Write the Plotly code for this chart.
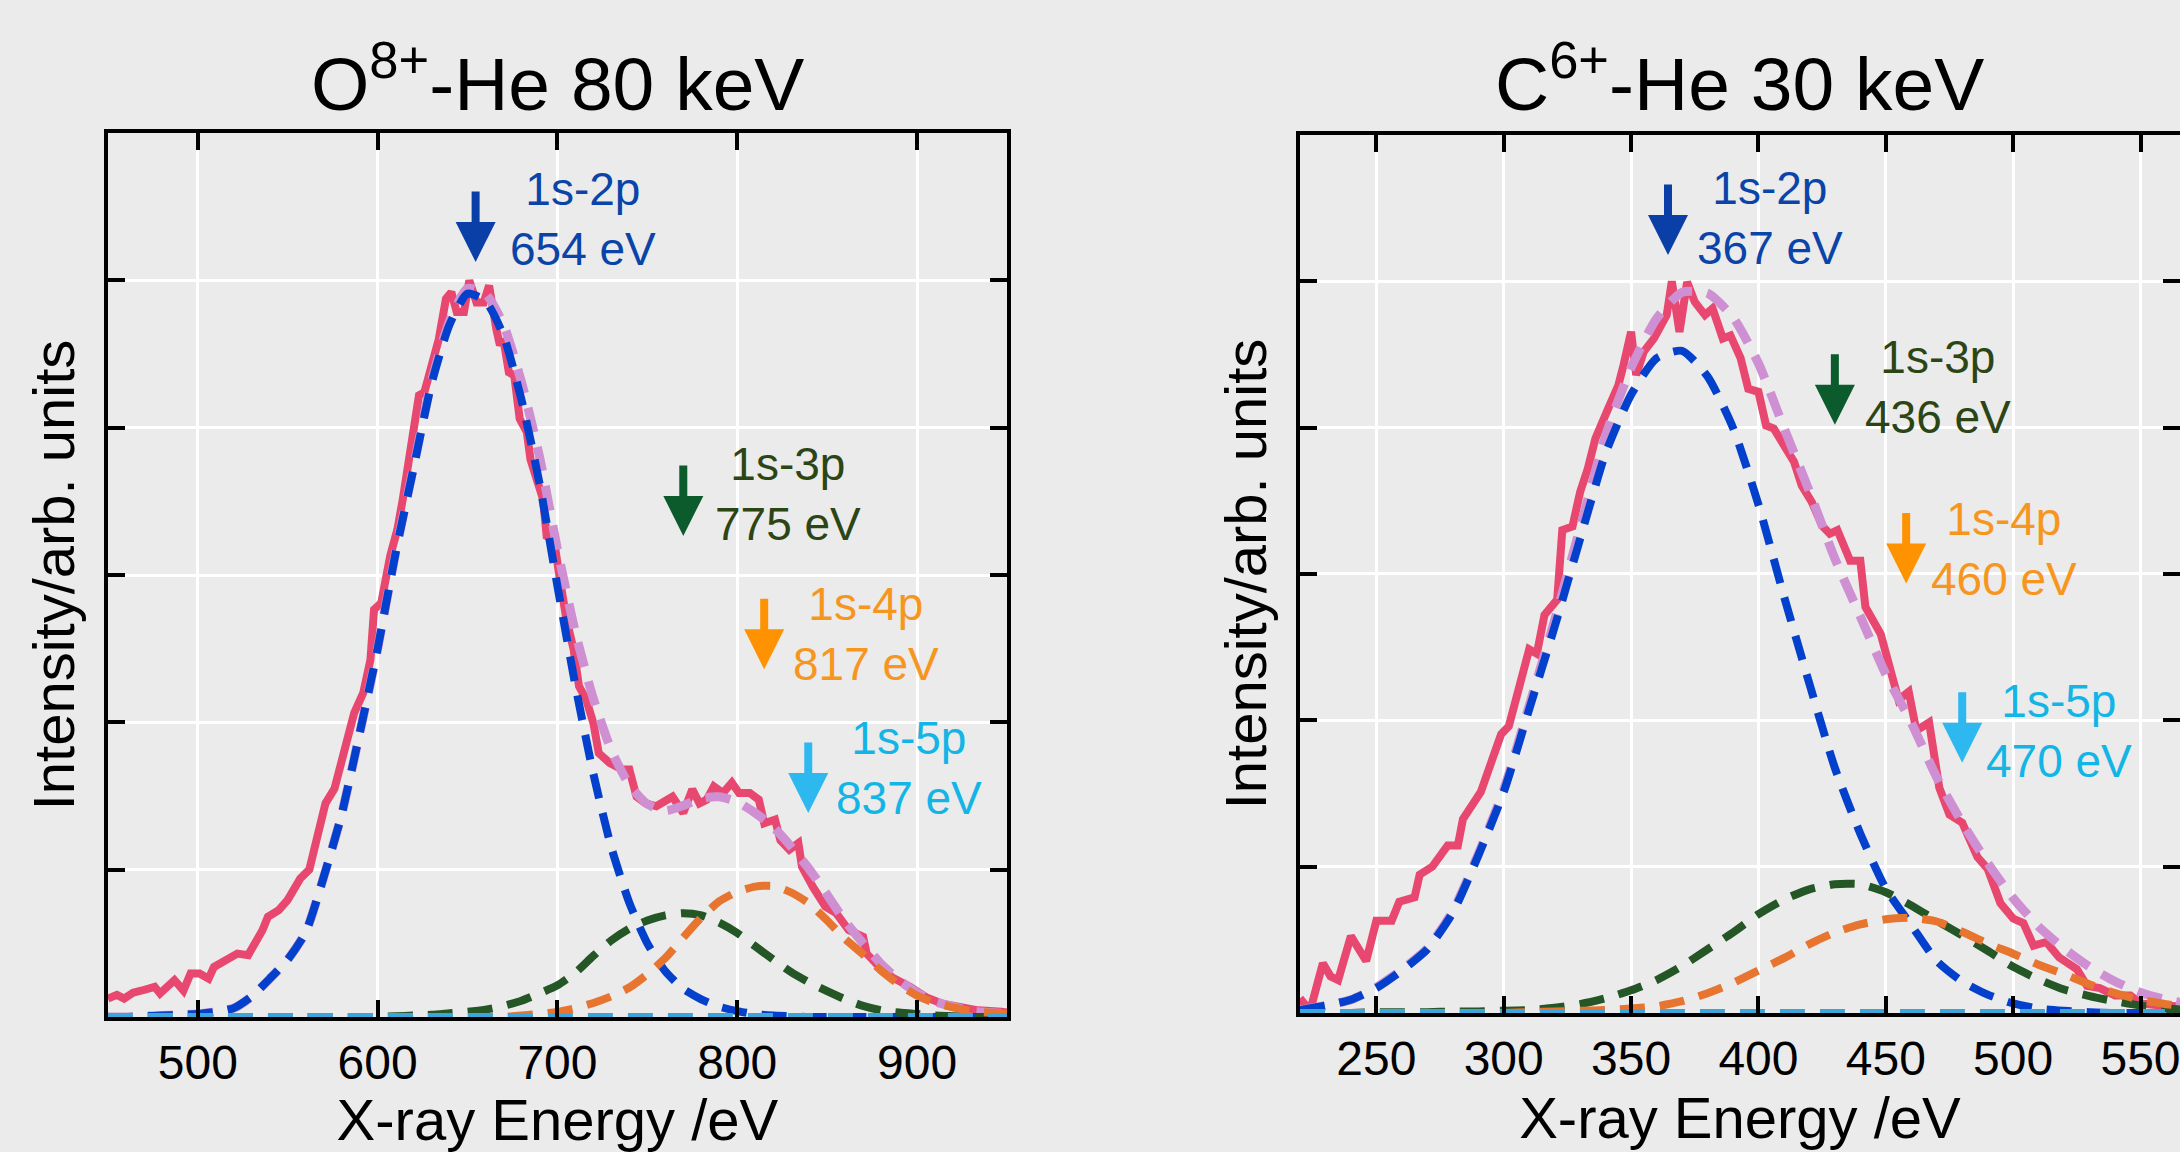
import plotly.graph_objects as go

# ---------------- Panel 1: O8+ - He 80 keV ----------------
e1_data = [450, 455, 459, 464, 469, 476, 479, 487, 492, 496, 501, 506, 509, 517, 522, 528, 533, 536, 539, 545,
           550, 557, 562, 567, 571, 576, 582, 587, 592, 596, 598, 602, 607, 611, 614, 617, 620, 623, 626, 630,
           634, 638, 641, 644, 648, 651, 655, 659, 662, 666, 668, 670, 673, 676, 679, 683, 685, 689, 692, 694,
           698, 701, 705, 709, 712, 716, 720, 723, 729, 736, 740, 744, 749, 755, 760, 764, 770, 775, 779, 783,
           787, 792, 797, 801, 807, 812, 815, 821, 824, 829, 834, 836, 842, 849, 855, 862, 870, 872, 879, 886,
           896, 905, 914, 923, 934, 947, 950]
i1_data = [0.025, 0.030, 0.025, 0.033, 0.036, 0.041, 0.032, 0.050, 0.036, 0.059, 0.059, 0.052, 0.068, 0.079, 0.086,
           0.084, 0.104, 0.118, 0.136, 0.145, 0.159, 0.188, 0.200, 0.250, 0.290, 0.310, 0.367, 0.413, 0.440, 0.485,
           0.553, 0.562, 0.626, 0.662, 0.703, 0.748, 0.794, 0.844, 0.848, 0.884, 0.920, 0.975, 0.984, 0.957, 0.957,
           1.000, 0.970, 0.970, 0.993, 0.934, 0.912, 0.920, 0.875, 0.871, 0.812, 0.794, 0.757, 0.726, 0.703, 0.653,
           0.649, 0.600, 0.540, 0.499, 0.449, 0.431, 0.399, 0.358, 0.345, 0.336, 0.336, 0.299, 0.290, 0.286, 0.295,
           0.299, 0.277, 0.309, 0.290, 0.295, 0.313, 0.304, 0.318, 0.304, 0.304, 0.295, 0.263, 0.268, 0.240, 0.227,
           0.236, 0.204, 0.177, 0.150, 0.141, 0.118, 0.109, 0.086, 0.068, 0.054, 0.041, 0.027, 0.018, 0.014, 0.009,
           0.007, 0.006]

e1_fit = [450, 460, 470, 480, 490, 500, 510, 520, 530, 540, 550, 560, 570, 580, 590, 600, 610, 620, 630, 640,
          650, 660, 670, 680, 690, 700, 710, 720, 730, 740, 750, 760, 770, 780, 790, 800, 810, 820, 830, 840,
          850, 860, 870, 880, 890, 900, 910, 920, 930, 940, 950]
fit1_total = [0.000, 0.000, 0.001, 0.002, 0.003, 0.004, 0.007, 0.012, 0.028, 0.052, 0.078, 0.115, 0.190, 0.275,
              0.385, 0.500, 0.631, 0.747, 0.863, 0.945, 0.989, 0.982, 0.940, 0.862, 0.761, 0.635, 0.522, 0.432,
              0.362, 0.315, 0.289, 0.280, 0.287, 0.297, 0.299, 0.292, 0.277, 0.258, 0.231, 0.201, 0.166, 0.130,
              0.100, 0.072, 0.050, 0.033, 0.021, 0.014, 0.008, 0.006, 0.004]
fit1_2p = [0.000, 0.000, 0.001, 0.002, 0.003, 0.004, 0.007, 0.012, 0.028, 0.052, 0.078, 0.115, 0.190, 0.275,
           0.385, 0.500, 0.630, 0.745, 0.860, 0.940, 0.982, 0.972, 0.925, 0.838, 0.725, 0.585, 0.450, 0.330,
           0.230, 0.155, 0.100, 0.062, 0.038, 0.024, 0.014, 0.008, 0.004, 0.002, 0.001, 0.000, 0.000, 0.000,
           0.000, 0.000, 0.000, 0.000, 0.000, 0.000, 0.000, 0.000, 0.000]
fit1_3p = [0.000, 0.000, 0.000, 0.000, 0.000, 0.000, 0.000, 0.000, 0.000, 0.000, 0.000, 0.000, 0.000, 0.000,
           0.000, 0.000, 0.001, 0.002, 0.003, 0.005, 0.007, 0.010, 0.015, 0.022, 0.032, 0.043, 0.060, 0.083,
           0.104, 0.120, 0.131, 0.138, 0.141, 0.138, 0.128, 0.114, 0.096, 0.078, 0.061, 0.047, 0.035, 0.024,
           0.015, 0.009, 0.006, 0.004, 0.002, 0.001, 0.000, 0.000, 0.000]
fit1_4p = [0.000, 0.000, 0.000, 0.000, 0.000, 0.000, 0.000, 0.000, 0.000, 0.000, 0.000, 0.000, 0.000, 0.000,
           0.000, 0.000, 0.000, 0.000, 0.000, 0.000, 0.000, 0.000, 0.000, 0.002, 0.004, 0.007, 0.012, 0.019,
           0.028, 0.040, 0.058, 0.080, 0.108, 0.135, 0.157, 0.170, 0.177, 0.178, 0.169, 0.154, 0.131, 0.106,
           0.085, 0.063, 0.044, 0.029, 0.019, 0.013, 0.008, 0.006, 0.004]
e1_5p = [450, 550, 650, 750, 850, 950]
fit1_5p = [0.000, 0.000, 0.000, 0.001, 0.001, 0.000]

# ---------------- Panel 2: C6+ - He 30 keV ----------------
e2_data = [220, 224, 229, 232, 235, 240, 246, 250, 256, 259, 265, 267, 272, 278, 282, 284, 291, 295, 299, 302,
           306, 310, 313, 316, 321, 323, 327, 330, 333, 336, 341, 345, 347, 350, 352, 355, 359, 364, 366, 369,
           372, 375, 379, 382, 386, 389, 393, 396, 400, 403, 406, 410, 414, 417, 421, 425, 428, 431, 436, 440,
           442, 448, 452, 455, 459, 462, 467, 471, 475, 480, 486, 490, 495, 500, 504, 508, 513, 518, 525, 529,
           534, 540, 546, 550, 556, 563, 570]
i2_data = [0.020, 0.003, 0.068, 0.050, 0.045, 0.105, 0.071, 0.126, 0.126, 0.152, 0.158, 0.189, 0.200, 0.229, 0.229,
           0.265, 0.302, 0.344, 0.381, 0.392, 0.449, 0.497, 0.491, 0.544, 0.565, 0.660, 0.665, 0.712, 0.744, 0.785,
           0.826, 0.858, 0.885, 0.931, 0.872, 0.904, 0.922, 0.954, 1.000, 0.931, 0.999, 0.972, 0.954, 0.963, 0.922,
           0.926, 0.895, 0.853, 0.849, 0.803, 0.799, 0.776, 0.753, 0.721, 0.698, 0.666, 0.655, 0.660, 0.618, 0.618,
           0.555, 0.518, 0.470, 0.428, 0.439, 0.386, 0.397, 0.308, 0.271, 0.260, 0.213, 0.197, 0.150, 0.129, 0.123,
           0.092, 0.097, 0.076, 0.060, 0.037, 0.034, 0.024, 0.024, 0.013, 0.011, 0.009, 0.008]

e2_fit = [220, 230, 240, 250, 260, 270, 280, 290, 300, 310, 320, 330, 340, 350, 360, 370, 380, 390, 400, 410,
          420, 430, 440, 450, 460, 470, 480, 490, 500, 510, 520, 530, 540, 550, 560, 570]
fit2_total = [0.004, 0.010, 0.018, 0.035, 0.059, 0.088, 0.139, 0.217, 0.305, 0.420, 0.537, 0.663, 0.789, 0.882,
              0.949, 0.985, 0.984, 0.951, 0.888, 0.800, 0.713, 0.621, 0.542, 0.463, 0.397, 0.322, 0.260, 0.205,
              0.157, 0.118, 0.088, 0.063, 0.043, 0.028, 0.018, 0.012]
fit2_2p = [0.004, 0.010, 0.018, 0.034, 0.058, 0.087, 0.137, 0.215, 0.302, 0.415, 0.528, 0.648, 0.765, 0.845,
           0.895, 0.905, 0.870, 0.800, 0.695, 0.570, 0.450, 0.335, 0.245, 0.170, 0.120, 0.071, 0.043, 0.025,
           0.013, 0.006, 0.003, 0.001, 0.000, 0.000, 0.000, 0.000]
fit2_3p = [0.000, 0.000, 0.000, 0.001, 0.001, 0.001, 0.002, 0.002, 0.003, 0.004, 0.007, 0.012, 0.020, 0.031,
           0.045, 0.064, 0.087, 0.110, 0.135, 0.155, 0.169, 0.176, 0.176, 0.165, 0.147, 0.126, 0.106, 0.085,
           0.063, 0.046, 0.032, 0.023, 0.016, 0.010, 0.006, 0.004]
fit2_4p = [0.000, 0.000, 0.000, 0.000, 0.000, 0.000, 0.000, 0.000, 0.000, 0.001, 0.002, 0.003, 0.004, 0.006,
           0.009, 0.016, 0.027, 0.041, 0.058, 0.075, 0.094, 0.110, 0.121, 0.128, 0.130, 0.125, 0.111, 0.095,
           0.081, 0.066, 0.053, 0.039, 0.027, 0.018, 0.012, 0.008]
e2_5p = [220, 300, 400, 500, 570]
fit2_5p = [0.000, 0.000, 0.001, 0.000, 0.000]

# transition labels: (name, energy label, arrow x, arrow tip y, label x, label y)
labels1 = [("1s-2p", "654 eV", 654.5, 1.025, 714, 1.084),
           ("1s-3p", "775 eV", 770, 0.653, 828, 0.710),
           ("1s-4p", "817 eV", 815, 0.472, 871.5, 0.520),
           ("1s-5p", "837 eV", 839.5, 0.277, 895.5, 0.338)]
labels2 = [("1s-2p", "367 eV", 364.5, 1.036, 404.5, 1.087),
           ("1s-3p", "436 eV", 430, 0.804, 470.5, 0.856),
           ("1s-4p", "460 eV", 458, 0.587, 496.5, 0.634),
           ("1s-5p", "470 eV", 480, 0.342, 518, 0.386)]

titles = ["O<sup>8+</sup>-He 80 keV", "C<sup>6+</sup>-He 30 keV"]
x_ticks1 = [500, 600, 700, 800, 900]
x_ticks2 = [250, 300, 350, 400, 450, 500, 550]
y_ticks = [0, 0.2, 0.4, 0.6, 0.8, 1.0, 1.2]

# ---------------- styling ----------------
C_DATA = "#E8476F"
C_TOTAL = "#CE90D2"
C_2P = "#0341CC"
C_3P = "#245626"
C_4P = "#E7742F"
C_5P = "#3DA5D9"
TEXT_COL = ["#0A44A8", "#2B4514", "#F7961F", "#12B5E6"]
ARROW_COL = ["#0A3FA8", "#0B5B2C", "#FF9200", "#2DB8EF"]
FONT = "Liberation Sans, Arial, Helvetica, sans-serif"
DASH = "25px,15px"

fig = go.Figure()


def add_panel(xa, ya, e_data, i_data, e_fit, total, c2, c3, c4, e5, c5):
    fig.add_trace(go.Scatter(x=e_data, y=i_data, mode="lines", xaxis=xa, yaxis=ya,
                             line=dict(color=C_DATA, width=8), name="data"))
    fig.add_trace(go.Scatter(x=e_fit, y=total, mode="lines", xaxis=xa, yaxis=ya,
                             line=dict(color=C_TOTAL, width=9, dash=DASH, shape="spline", smoothing=0.6),
                             name="total"))
    for ys, col, nm in [(c2, C_2P, "1s-2p"), (c3, C_3P, "1s-3p"), (c4, C_4P, "1s-4p")]:
        fig.add_trace(go.Scatter(x=e_fit, y=ys, mode="lines", xaxis=xa, yaxis=ya,
                                 line=dict(color=col, width=8, dash=DASH, shape="spline", smoothing=0.6),
                                 name=nm))
    fig.add_trace(go.Scatter(x=e5, y=c5, mode="lines", xaxis=xa, yaxis=ya,
                             line=dict(color=C_5P, width=8, dash=DASH), name="1s-5p"))


add_panel("x", "y", e1_data, i1_data, e1_fit, fit1_total, fit1_2p, fit1_3p, fit1_4p, e1_5p, fit1_5p)
add_panel("x2", "y2", e2_data, i2_data, e2_fit, fit2_total, fit2_2p, fit2_3p, fit2_4p, e2_5p, fit2_5p)

axis_common = dict(ticks="inside", ticklen=17, tickwidth=4, tickcolor="black",
                   showline=True, linewidth=4, linecolor="black", mirror="allticks",
                   showgrid=True, gridcolor="white", gridwidth=2.5, zeroline=False,
                   automargin=False)

xdom1 = [0.0495, 0.4619]
xdom2 = [0.5963, 1.0]
ydom1 = [0.1172, 0.8845]
ydom2 = [0.1207, 0.8828]

fig.update_layout(
    width=2180, height=1152,
    margin=dict(l=0, r=0, t=0, b=0),
    paper_bgcolor="#EBEBEB", plot_bgcolor="#EBEBEB",
    showlegend=False,
    font=dict(family=FONT, color="black"),
    xaxis=dict(domain=xdom1, anchor="y", range=[450, 950], tickvals=x_ticks1,
               tickfont=dict(size=48), ticklabeloverflow="allow",
               title=dict(text="X-ray Energy /eV", font=dict(size=58), standoff=4), **axis_common),
    yaxis=dict(domain=ydom1, anchor="x", range=[0, 1.2], tickvals=y_ticks, showticklabels=False,
               title=dict(text="Intensity/arb. units", font=dict(size=58), standoff=12), **axis_common),
    xaxis2=dict(domain=xdom2, anchor="y2", range=[220, 565.5], tickvals=x_ticks2,
                tickfont=dict(size=48), ticklabeloverflow="allow",
                title=dict(text="X-ray Energy /eV", font=dict(size=58), standoff=4), **axis_common),
    yaxis2=dict(domain=ydom2, anchor="x2", range=[0, 1.2], tickvals=y_ticks, showticklabels=False,
                title=dict(text="Intensity/arb. units", font=dict(size=58), standoff=12), **axis_common),
)

annotations = []
for (xr, yr, labels) in [("x", "y", labels1), ("x2", "y2", labels2)]:
    for k, (nm, ev, ax_x, tip_y, lx, ly) in enumerate(labels):
        annotations.append(dict(x=ax_x, y=tip_y, xref=xr, yref=yr, text="", showarrow=True,
                                arrowhead=2, arrowsize=1.0, arrowwidth=8, arrowcolor=ARROW_COL[k],
                                ax=0, ay=-72))
        annotations.append(dict(x=lx, y=ly, xref=xr, yref=yr, text=nm + "<br>" + ev, showarrow=False,
                                align="center", xanchor="center", yanchor="middle",
                                font=dict(size=46, color=TEXT_COL[k], family=FONT)))

for dom, t in [(xdom1, titles[0]), (xdom2, titles[1])]:
    annotations.append(dict(x=(dom[0] + dom[1]) / 2, y=0.932, xref="paper", yref="paper", text=t,
                            showarrow=False, xanchor="center", yanchor="middle",
                            font=dict(size=75, color="black", family=FONT)))

fig.update_layout(annotations=annotations)
fig.write_html("out.html")
